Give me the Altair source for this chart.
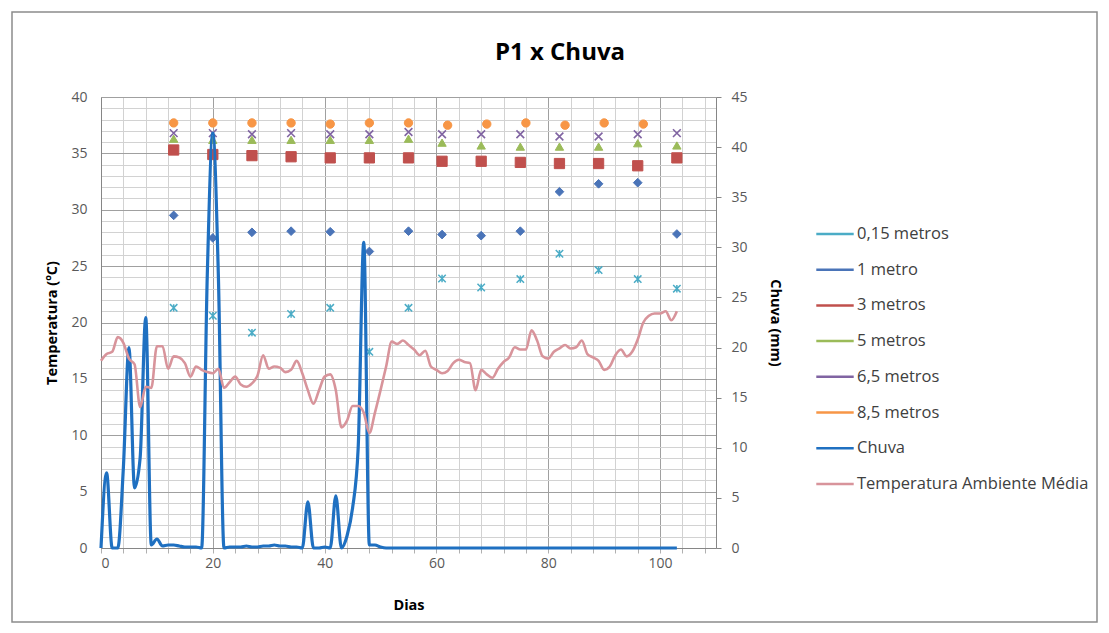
import altair as alt
import pandas as pd

# ---------------- data ----------------
chart_title = "P1 x Chuva"
series_names = ["0,15 metros", "1 metro", "3 metros", "5 metros", "6,5 metros",
                "8,5 metros", "Chuva", "Temperatura Ambiente Média"]
series_colors = ["#4BACC6", "#4a74b8", "#C0504D", "#9BBB59", "#8064A2",
                 "#F79646", "#1f70c1", "#d8949b"]

dias_medicao = [13, 20, 27, 34, 41, 48, 55, 61, 68, 75, 82, 89, 96, 103]
t_015 = [21.3, 20.6, 19.1, 20.75, 21.3, 17.4, 21.3, 23.9, 23.1, 23.85, 26.1, 24.65, 23.85, 23.0]
t_1 = [29.5, 27.5, 28.0, 28.1, 28.05, 26.3, 28.1, 27.8, 27.7, 28.1, 31.6, 32.3, 32.4, 27.85]
t_3 = [35.3, 34.9, 34.8, 34.7, 34.6, 34.6, 34.6, 34.3, 34.3, 34.2, 34.1, 34.1, 33.9, 34.6]
t_5 = [36.3, 36.2, 36.2, 36.2, 36.2, 36.2, 36.3, 35.95, 35.7, 35.6, 35.6, 35.6, 35.9, 35.7]
t_65 = [36.8, 36.8, 36.7, 36.8, 36.7, 36.7, 36.9, 36.7, 36.7, 36.7, 36.5, 36.5, 36.7, 36.8]

dias_85 = [13, 20, 27, 34, 41, 48, 55, 62, 69, 76, 83, 90, 97]
t_85 = [37.7, 37.7, 37.7, 37.7, 37.6, 37.7, 37.7, 37.5, 37.6, 37.7, 37.5, 37.7, 37.6]

dias = list(range(0, 104))
chuva = [0, 7.5, 0, 0, 8, 20, 6, 9, 23, 0.3,
         0.9, 0.2, 0.3, 0.3, 0.2, 0.1, 0.1, 0.1, 0, 27,
         41.4, 27, 0, 0.1, 0.1, 0.1, 0.2, 0.1, 0.1, 0.2,
         0.2, 0.3, 0.2, 0.2, 0.1, 0.1, 0, 4.6, 0, 0,
         0.1, 0, 5.2, 0, 1.2, 4, 10, 30.5, 0.3, 0.3,
         0.1, 0, 0, 0, 0, 0, 0, 0, 0, 0,
         0, 0, 0, 0, 0, 0, 0, 0, 0, 0,
         0, 0, 0, 0, 0, 0, 0, 0, 0, 0,
         0, 0, 0, 0, 0, 0, 0, 0, 0, 0,
         0, 0, 0, 0, 0, 0, 0, 0, 0, 0,
         0, 0, 0, 0]
temp_amb = [16.6, 17.2, 17.4, 18.7, 18.2, 16.8, 16.3, 12.5, 14.3, 14.2,
            17.9, 17.9, 15.9, 17.0, 16.9, 16.4, 15.2, 16.1, 15.8, 15.6,
            15.5, 15.9, 14.2, 14.7, 15.2, 14.5, 14.3, 14.6, 15.3, 17.1,
            15.9, 16.1, 16.0, 15.6, 15.8, 16.6, 15.5, 14.0, 12.8, 14.0,
            15.2, 15.4, 14.0, 10.7, 11.3, 12.6, 12.6, 12.0, 10.2, 12.0,
            14.0, 16.1, 18.3, 18.1, 18.4, 18.0, 17.6, 17.1, 17.5, 16.1,
            15.8, 15.5, 15.7, 16.4, 16.7, 16.5, 16.4, 14.0, 15.8, 15.4,
            15.1, 15.9, 16.5, 16.9, 17.8, 17.6, 17.6, 19.3, 18.4, 17.0,
            16.8, 17.4, 17.7, 18.0, 17.7, 17.8, 18.4, 17.2, 16.9, 16.6,
            15.8, 16.1, 17.1, 17.6, 17.0, 17.4, 18.5, 20.0, 20.6, 20.8,
            20.8, 21.0, 20.2, 21.0]

x_ticks = list(range(0, 112, 4))
y_left_ticks = list(range(0, 41, 1))
y_right_ticks = list(range(0, 46, 5))

FONT = "Open Sans"

# ---------------- tables ----------------
def pts(days, vals, name):
    return pd.DataFrame({"dia": days, "temp": vals, "serie": name})

df015 = pts(dias_medicao, t_015, series_names[0])
df1 = pts(dias_medicao, t_1, series_names[1])
df3 = pts(dias_medicao, t_3, series_names[2])
df5 = pts(dias_medicao, t_5, series_names[3])
df65 = pts(dias_medicao, t_65, series_names[4])
df85 = pts(dias_85, t_85, series_names[5])
df_chuva = pd.DataFrame({"dia": dias, "mm": chuva, "serie": series_names[6]})
df_temp = pd.DataFrame({"dia": dias, "temp": temp_amb, "serie": series_names[7]})

color_scale = alt.Scale(domain=series_names, range=series_colors)
legend = alt.Legend(
    title=None, orient="none", legendX=714, legendY=117,
    symbolType="stroke", symbolSize=1400, symbolStrokeWidth=2.5,
    labelFont=FONT, labelFontSize=16.5, labelColor="#404040",
    rowPadding=6.7, labelOffset=2, labelLimit=400,
)
color_enc = alt.Color("serie:N", scale=color_scale, legend=legend)

x_enc = alt.X(
    "dia:Q",
    scale=alt.Scale(domain=[0, 110], nice=False, zero=False),
    axis=alt.Axis(
        values=x_ticks, title="Dias",
        labelExpr="datum.value % 20 === 0 ? datum.label : ''",
        labelOverlap=False, grid=True,
        gridColor={"condition": {"test": "datum.value % 20 === 0", "value": "#a0a0a0"},
                   "value": "#d2d2d2"},
        tickSize=5, tickColor="#b0b0b0", labelPadding=3, titlePadding=28,
    ),
)

left_scale = alt.Scale(domain=[0, 40], nice=False, zero=True)
left_axis = alt.Axis(
    values=y_left_ticks, title="Temperatura (ºC)",
    labelExpr="datum.value % 5 === 0 ? datum.label : ''",
    labelOverlap=False, grid=True,
    gridColor={"condition": {"test": "datum.value % 5 === 0", "value": "#a0a0a0"},
               "value": "#d2d2d2"},
    tickSize=0, labelPadding=14, titlePadding=11,
)


def point_layer(df, shape, size, filled_color=None, first=False, stroke_w=1.0):
    y = alt.Y("temp:Q", scale=left_scale, axis=left_axis if first else None)
    enc = dict(x=x_enc, y=y, color=color_enc)
    if filled_color is not None:
        enc["fill"] = alt.value(filled_color)
    return alt.Chart(df).mark_point(
        shape=shape, size=size, filled=False, opacity=1, strokeWidth=stroke_w
    ).encode(**enc)


X_PATH = "M-1,-1L1,1M-1,1L1,-1"
STAR_PATH = "M-1,-1L1,1M-1,1L1,-1M0,-1L0,1"

l015 = point_layer(df015, STAR_PATH, 55, None, first=True, stroke_w=1.5)
l1 = point_layer(df1, "diamond", 75, series_colors[1])
l3 = point_layer(df3, "square", 105, series_colors[2])
l5 = point_layer(df5, "triangle-up", 70, series_colors[3])
l65 = point_layer(df65, X_PATH, 60, None, stroke_w=1.6)
l85 = point_layer(df85, "circle", 70, series_colors[5])

chuva_line = alt.Chart(df_chuva).mark_line(
    interpolate="monotone", strokeWidth=3.2
).encode(
    x=x_enc,
    y=alt.Y("mm:Q", scale=alt.Scale(domain=[0, 45], nice=False),
            axis=alt.Axis(orient="right", values=y_right_ticks, title="Chuva (mm)",
                          grid=False, tickSize=5, tickColor="#868686",
                          labelPadding=10, titlePadding=20)),
    color=color_enc,
)

temp_line = alt.Chart(df_temp).mark_line(
    interpolate="monotone", strokeWidth=2.6
).encode(
    x=x_enc,
    y=alt.Y("temp:Q", scale=left_scale, axis=None),
    color=color_enc,
)

deco = pd.DataFrame({"t": [chart_title]})

border = alt.Chart(deco).mark_rect(
    fillOpacity=0, stroke="#8c8c8c", strokeWidth=1.5
).encode(
    x=alt.value(-89), y=alt.value(-85), x2=alt.value(996), y2=alt.value(525)
)

title_text = alt.Chart(deco).mark_text(
    font=FONT, fontSize=24, fontWeight="bold", color="#000000",
    align="center", baseline="middle"
).encode(
    text="t:N", x=alt.value(459), y=alt.value(-44)
)

chart = alt.layer(
    l015, l1, l3, l5, l65, l85, chuva_line, temp_line, border, title_text
).resolve_scale(
    y="independent"
).properties(
    width=615, height=451,
    autosize=alt.AutoSizeParams(type="none"),
    padding={"left": 101, "top": 97, "right": 393, "bottom": 85},
    background="white",
).configure_view(
    stroke=None
).configure_axis(
    domainColor="#868686", labelColor="#595959", labelFont=FONT, labelFontSize=14,
    titleFont=FONT, titleFontSize=14.5, titleFontWeight="bold", titleColor="#000000",
)

chart.save("out.html", embed_options={"renderer": "svg", "actions": False})
